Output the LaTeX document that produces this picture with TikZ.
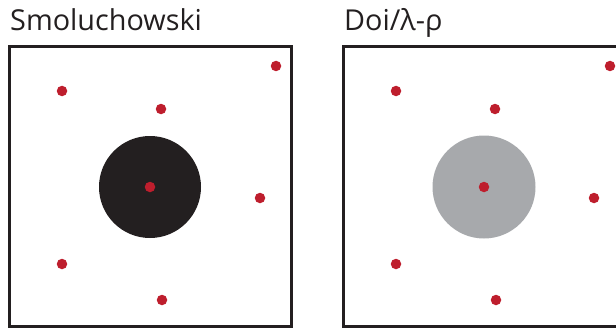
\documentclass[tikz,border=0pt]{standalone}
\usepackage{fontspec}
\setmainfont{Open Sans}
\definecolor{dk}{HTML}{231F20}
\definecolor{gr}{HTML}{A7A9AC}
\definecolor{rd}{HTML}{BE1E2D}
\begin{document}
\begin{tikzpicture}[x=1pt,y=-1pt,
  frame/.style={draw=dk,line width=3pt},
  dot/.style={circle,fill=rd,inner sep=0pt,minimum size=10.5pt},
  title/.style={anchor=base west,inner sep=0pt,text=dk,font=\fontsize{28.8}{30}\selectfont}]
\useasboundingbox (0,0) rectangle (616,329);
\clip (0,0) rectangle (616,329);
\node[title] (t1) at (10,31) {Smoluchowski};
\node[title] (t2) at (344,31) {Doi/λ-ρ};
\draw[frame] (9.5,47) rectangle (291.5,326.5);
\draw[frame] (343.5,47) rectangle (625.5,326.5);
\fill[dk] (150,187) circle (51);
\fill[gr] (484,187) circle (51.5);
\foreach \dx/\s in {0/a,334/b}{
  \node[dot] (\s1) at (276+\dx,66) {};
  \node[dot] (\s2) at (62+\dx,91) {};
  \node[dot] (\s3) at (161+\dx,109) {};
  \node[dot] (\s4) at (150+\dx,187) {};
  \node[dot] (\s5) at (260+\dx,198) {};
  \node[dot] (\s6) at (62+\dx,264) {};
  \node[dot] (\s7) at (162+\dx,300) {};
}
\end{tikzpicture}
\end{document}
